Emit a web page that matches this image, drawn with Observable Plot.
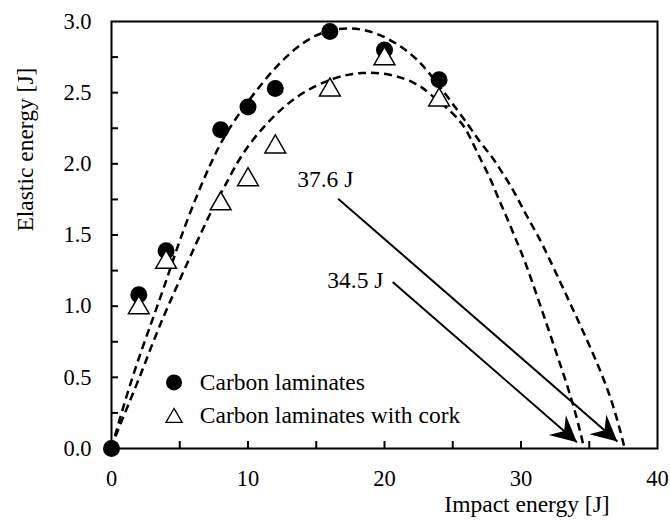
<!DOCTYPE html>
<html><head><meta charset="utf-8">
<script src="https://cdn.jsdelivr.net/npm/d3@7"></script>
<script src="https://cdn.jsdelivr.net/npm/@observablehq/plot@0.6"></script>
<style>body{margin:0;background:#fff}</style>
</head><body><div id="chart"></div>
<script>
// ---- data ----
const carbonX = [0, 2, 4, 8, 10, 12, 16, 20, 24];
const carbonY = [0, 1.08, 1.39, 2.24, 2.40, 2.53, 2.93, 2.80, 2.59];
const corkX = [2, 4, 8, 10, 12, 16, 20, 24];
const corkY = [1.01, 1.33, 1.74, 1.91, 2.14, 2.54, 2.76, 2.47];

// dashed fitted curves
const carbonFitX = [0, 0.4, 1.5, 2.9, 4.1, 5.0, 6.5, 8.0, 9.5, 11.2, 12.9, 14.9, 17.3, 19.8, 22.0, 23.2, 24.7, 26.25, 27.0, 27.9, 28.6, 29.3, 29.95, 30.56, 31.3, 31.9, 33.5, 35.2, 36.7, 37.6];
const carbonFitY = [0, 0.14, 0.50, 0.88, 1.20, 1.47, 1.84, 2.16, 2.375, 2.59, 2.77, 2.915, 2.97, 2.915, 2.775, 2.65, 2.46, 2.26, 2.15, 2.05, 1.94, 1.84, 1.72, 1.61, 1.485, 1.37, 1.04, 0.69, 0.34, 0];
const corkFitX = [0, 0.4, 2.0, 3.35, 5.07, 7.28, 8.25, 9.5, 11.45, 13.65, 16.3, 18.3, 20.5, 22.5, 23.2, 25.0, 25.9, 26.5, 27.1, 27.7, 28.2, 28.7, 29.2, 29.7, 30.2, 31.3, 32.77, 33.75, 34.5, 34.6];
const corkFitY = [0, 0.12, 0.48, 0.83, 1.20, 1.67, 1.83, 2.07, 2.30, 2.49, 2.61, 2.645, 2.635, 2.56, 2.50, 2.36, 2.26, 2.14, 2.02, 1.91, 1.79, 1.68, 1.57, 1.45, 1.34, 1.04, 0.62, 0.34, 0.06, 0];

// arrows and their labels
const arrowX1 = [16.6, 20.6];
const arrowY1 = [1.755, 1.17];
const arrowX2 = [37.06, 34.1];
const arrowY2 = [0.05, 0.044];
const annotLabels = ["37.6 J", "34.5 J"];
const annotX = [15.66, 17.87];
const annotY = [1.89, 1.18];

// axes
const xTickLabels = [0, 10, 20, 30, 40];
const xMinorTicks = [5, 10, 15, 20, 25, 30, 35];
const yTickLabels = [0, 0.5, 1.0, 1.5, 2.0, 2.5, 3.0];
const yMinorTicks = [0.25, 0.5, 0.75, 1.0, 1.25, 1.5, 1.75, 2.0, 2.25, 2.5, 2.75];
const xTitle = "Impact energy [J]";
const yTitle = "Elastic energy [J]";
const legendLabels = ["Carbon laminates", "Carbon laminates with cork"];

// ---- build ----
const pts = (xs, ys) => xs.map((x, i) => ({x, y: ys[i]}));
const carbon = pts(carbonX, carbonY);
const cork = pts(corkX, corkY);
const carbonFit = pts(carbonFitX, carbonFitY);
const corkFit = pts(corkFitX, corkFitY);
const arrows = arrowX1.map((x1, i) => ({x1, y1: arrowY1[i], x2: arrowX2[i], y2: arrowY2[i]}));
const annots = annotLabels.map((label, i) => ({label, x: annotX[i], y: annotY[i]}));

const W = 670, H = 527, mL = 111, mR = 13, mT = 21, mB = 79;
const plotW = W - mL - mR, plotH = H - mT - mB;
const serif = "'Liberation Serif','Times New Roman',serif";
const tsize = 23.5;

const chart = Plot.plot({
  width: W, height: H,
  marginLeft: mL, marginRight: mR, marginTop: mT, marginBottom: mB,
  style: {fontFamily: serif, fontSize: "22.5px", color: "black", background: "white"},
  x: {domain: [0, 40], label: null},
  y: {domain: [0, 3], label: null},
  marks: [
    Plot.line(carbonFit, {x: "x", y: "y", curve: "basis", stroke: "black", strokeWidth: 2.5, strokeDasharray: "8,5", strokeLinecap: "butt"}),
    Plot.line(corkFit, {x: "x", y: "y", curve: "basis", stroke: "black", strokeWidth: 2.5, strokeDasharray: "8,5", strokeLinecap: "butt"}),
    Plot.link(arrows, {x1: "x1", y1: "y1", x2: "x2", y2: "y2", stroke: "black", strokeWidth: 2, strokeLinecap: "butt"}),
    Plot.text(annots, {x: "x", y: "y", text: "label", fontSize: tsize, textAnchor: "middle", lineAnchor: "middle"}),
    Plot.frame({stroke: "black", strokeWidth: 2}),
    Plot.ruleX(xMinorTicks, {stroke: "black", strokeWidth: 2, insetTop: plotH - 7}),
    Plot.ruleY(yMinorTicks, {stroke: "black", strokeWidth: 2, insetRight: plotW - 7}),
    Plot.axisX(xTickLabels, {tickSize: 0, tickPadding: 22, tickFormat: d => String(d), label: null, fontSize: 22.5}),
    Plot.axisY(yTickLabels, {tickSize: 0, tickPadding: 20, tickFormat: d3.format(".1f"), label: null, fontSize: 22.5}),
    Plot.dot(carbon, {x: "x", y: "y", r: 8.5, fill: "black", stroke: null}),
    Plot.dot(cork, {x: "x", y: "y", r: 7.7, symbol: "triangle", fill: "white", stroke: "black", strokeWidth: 1.5, dy: 3}),
    // legend
    Plot.dot([legendLabels[0]], {x: 4.58, y: 0.464, r: 8, fill: "black", stroke: null}),
    Plot.dot([legendLabels[1]], {x: 4.58, y: 0.232, r: 6, symbol: "triangle", fill: "white", stroke: "black", strokeWidth: 1.3, dy: 2.3}),
    Plot.text([legendLabels[0]], {x: 6.47, y: 0.464, text: d => d, textAnchor: "start", lineAnchor: "middle", fontSize: tsize}),
    Plot.text([legendLabels[1]], {x: 6.47, y: 0.232, text: d => d, textAnchor: "start", lineAnchor: "middle", fontSize: tsize}),
    // titles
    Plot.text([xTitle], {x: 30.44, frameAnchor: "bottom", dy: 63.5, lineAnchor: "bottom", textAnchor: "middle", text: d => d, fontSize: tsize}),
    Plot.text([yTitle], {y: 2.1, frameAnchor: "left", dx: -86.5, rotate: -90, textAnchor: "middle", lineAnchor: "middle", text: d => d, fontSize: tsize})
  ]
});

// filled "stealth" arrowheads on the link paths
const ns = "http://www.w3.org/2000/svg";
const defs = document.createElementNS(ns, "defs");
defs.innerHTML = '<marker id="stealth" markerUnits="userSpaceOnUse" viewBox="-28 -15 30 30" markerWidth="30" markerHeight="30" refX="0" refY="0" orient="auto"><path d="M0,0 L-26,-13 L-17,0 L-26,13 Z" fill="black"/></marker>';
chart.insertBefore(defs, chart.firstChild);
chart.querySelectorAll('g[aria-label="link"] path').forEach(p => p.setAttribute("marker-end", "url(#stealth)"));

document.getElementById("chart").appendChild(chart);
</script></body></html>
